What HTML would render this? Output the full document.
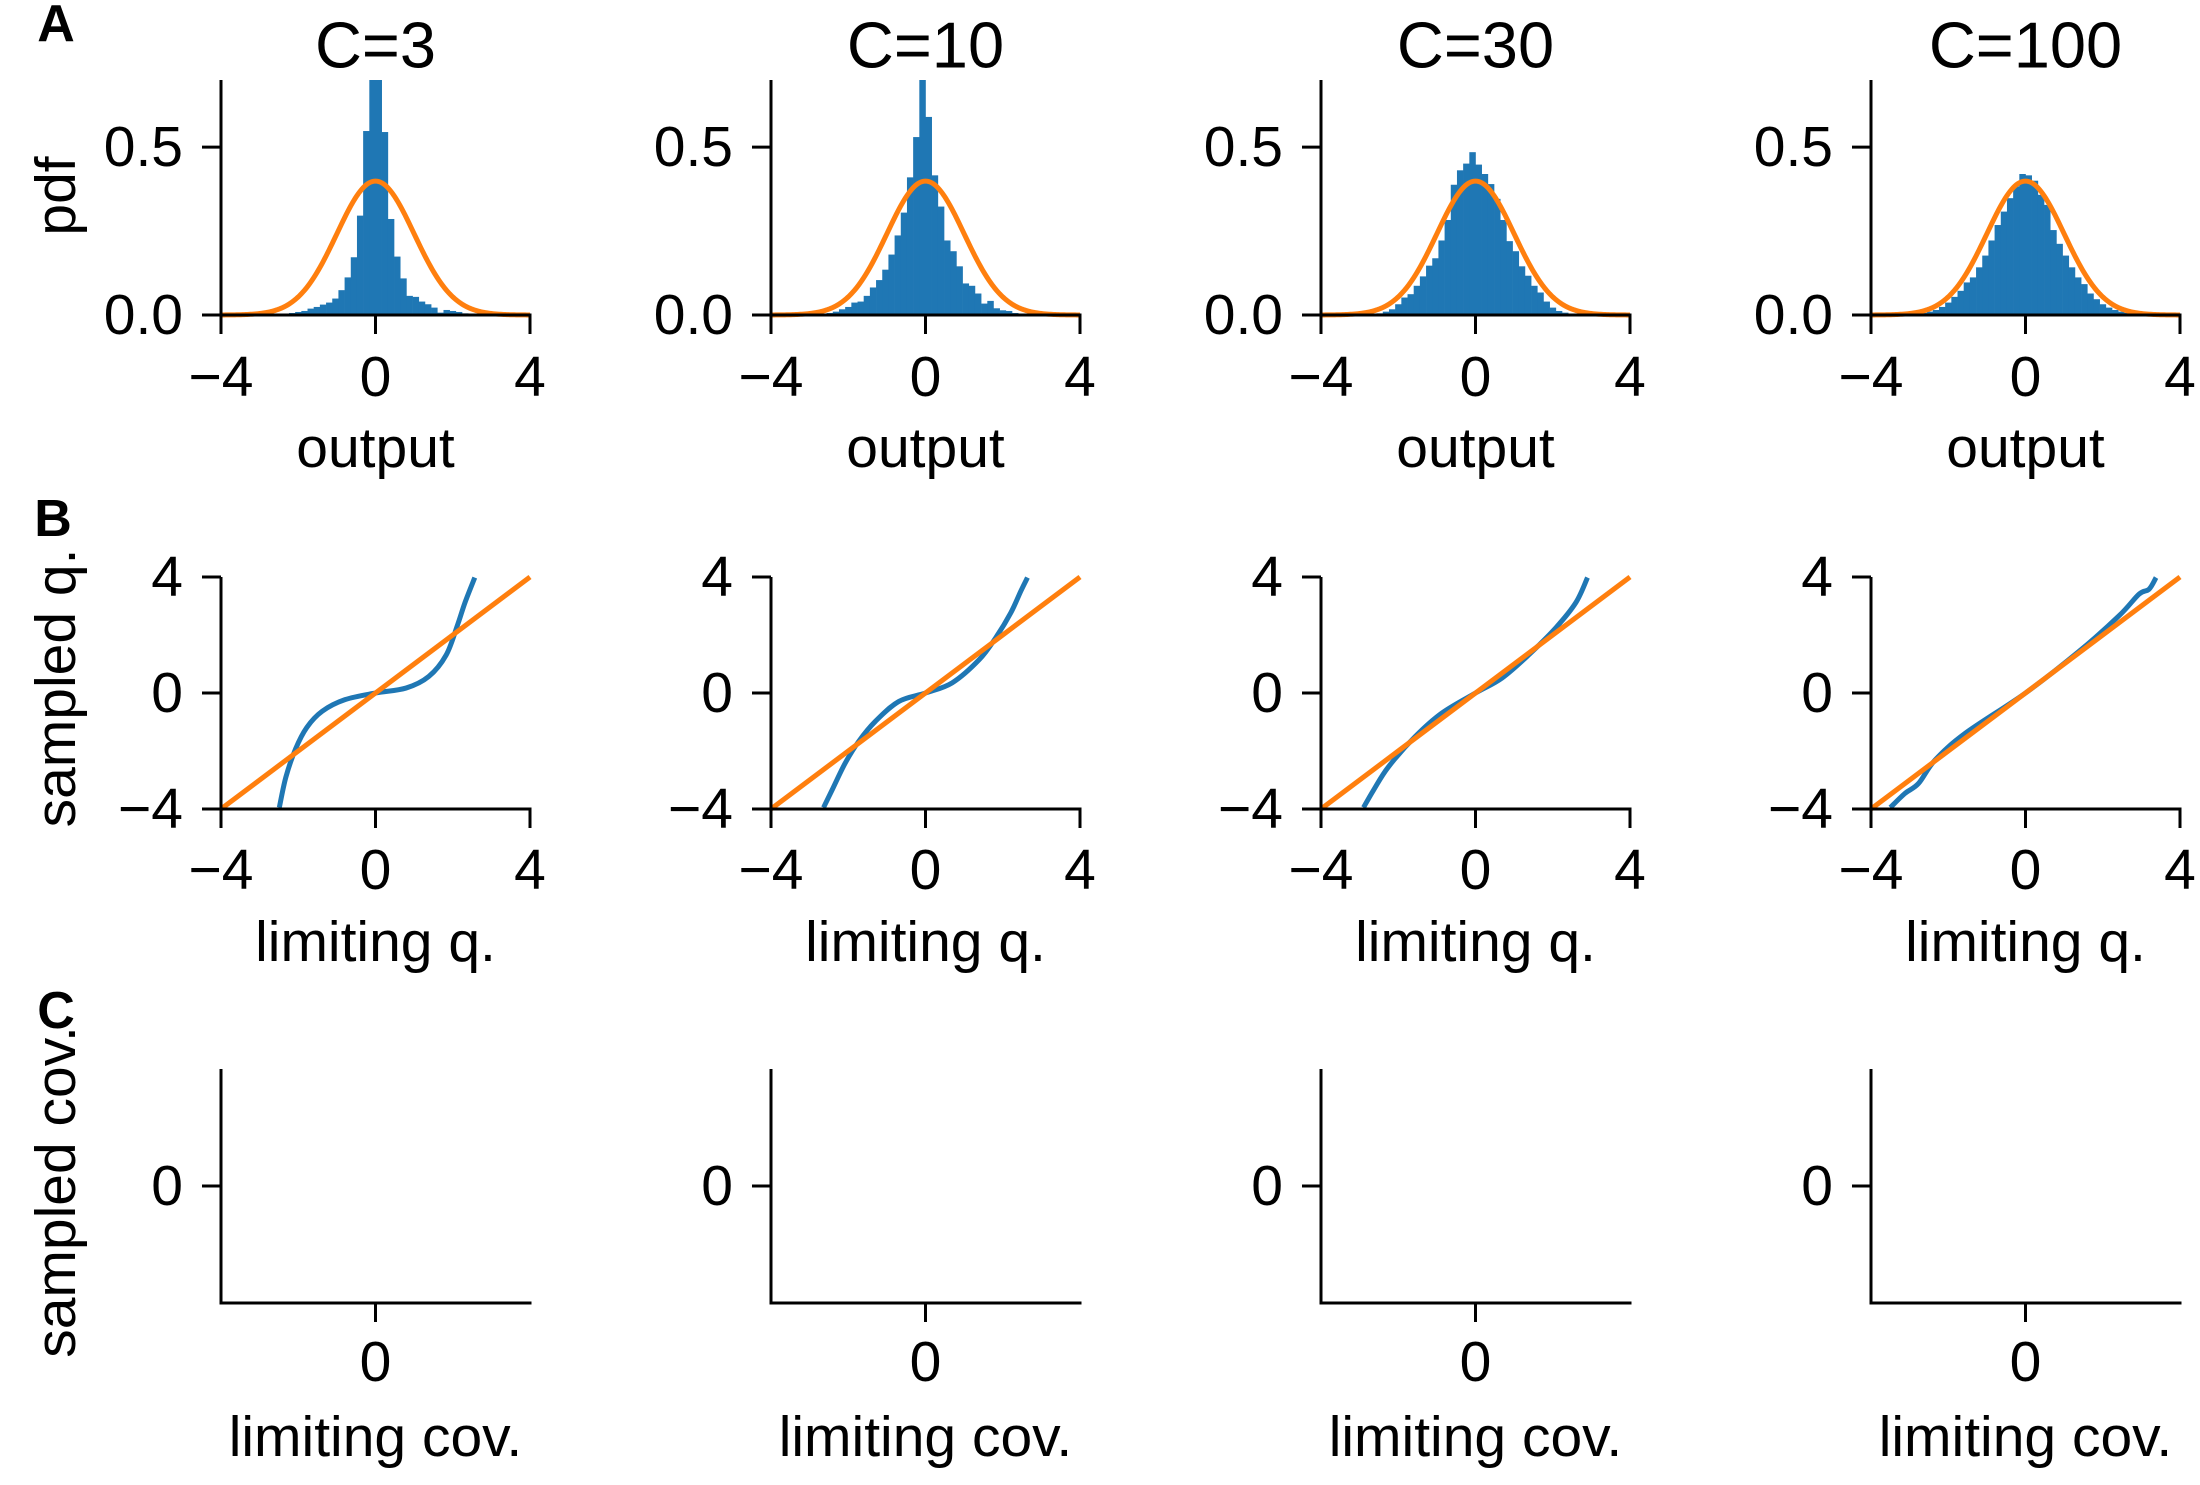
<!DOCTYPE html>
<html><head><meta charset="utf-8"><style>
html,body{margin:0;padding:0;background:#fff;}
svg{display:block;font-family:"Liberation Sans",Arial,sans-serif;}
</style></head><body>
<svg id="fig" width="2200" height="1485" viewBox="0 0 2200 1485" xmlns="http://www.w3.org/2000/svg"></svg>
<script>
// ---- data ----
const panelTitles = ["C=3","C=10","C=30","C=100"];
const binStart = -2.88;
const binWidth = 0.16;
const histC3 = [0,0,0.001,0.003,0.006,0.009,0.012,0.019,0.024,0.031,0.037,0.049,0.074,0.112,0.172,0.296,0.548,0.75,
  0.75,0.545,0.286,0.174,0.109,0.057,0.054,0.04,0.032,0.022,0.007,0.015,0.012,0.009,0.005,0.003,0.001,0];
const histC10 = [0.001,0.003,0.006,0.01,0.017,0.024,0.037,0.04,0.057,0.082,0.104,0.135,0.18,0.237,0.305,0.41,0.53,0.75,
  0.59,0.416,0.323,0.222,0.19,0.145,0.094,0.087,0.064,0.034,0.042,0.02,0.014,0.012,0.006,0.003,0.001,0];
const histC30 = [0.001,0.002,0.005,0.01,0.017,0.032,0.052,0.062,0.087,0.115,0.147,0.169,0.222,0.283,0.388,0.431,0.451,0.485,
  0.448,0.42,0.39,0.346,0.283,0.22,0.19,0.145,0.117,0.087,0.067,0.04,0.022,0.012,0.007,0.003,0.001,0];
const histC100 = [0.003,0.006,0.01,0.015,0.024,0.037,0.054,0.072,0.097,0.112,0.142,0.177,0.222,0.268,0.308,0.348,0.383,0.42,
  0.416,0.40,0.358,0.328,0.253,0.212,0.177,0.142,0.112,0.092,0.064,0.047,0.032,0.022,0.015,0.01,0.006,0.003];
const limitMean = 0, limitSd = 1;
const qqLimC3 = [-2.49,-2.32,-2.07,-1.78,-1.38,-0.79,0,0.79,1.38,1.83,2.12,2.32,2.57];
const qqSampC3 = [-3.95,-2.9,-1.93,-1.19,-0.63,-0.23,0,0.17,0.57,1.31,2.33,3.13,3.98];
const qqLimC10 = [-2.64,-2.42,-2.08,-1.73,-1.3,-0.69,0,0.69,1.39,1.82,2.21,2.47,2.64];
const qqSampC10 = [-3.95,-3.35,-2.42,-1.67,-0.98,-0.29,0,0.35,1.15,1.91,2.77,3.52,3.98];
const qqLimC30 = [-2.9,-2.64,-2.25,-1.56,-0.87,0,0.69,1.39,2.08,2.6,2.9];
const qqSampC30 = [-3.95,-3.35,-2.54,-1.5,-0.69,0,0.52,1.33,2.25,3.12,3.98];
const qqLimC100 = [-3.5,-3.12,-2.77,-2.34,-1.56,0,1.39,2.42,2.94,3.2,3.38];
const qqSampC100 = [-3.95,-3.46,-3.12,-2.31,-1.39,0,1.44,2.66,3.41,3.58,3.98];
const xTicks = [-4,0,4];
const xTickLabels = ["\u22124","0","4"];
const pdfTicks = [0,0.5];
const pdfTickLabels = ["0.0","0.5"];
const qqYTicks = [-4,0,4];
const qqYTickLabels = ["\u22124","0","4"];

const hists = [histC3,histC10,histC30,histC100];
const qqX = [qqLimC3,qqLimC10,qqLimC30,qqLimC100];
const qqY = [qqSampC3,qqSampC10,qqSampC30,qqSampC100];

const NS = "http://www.w3.org/2000/svg";
const svg = document.getElementById("fig");
function mk(tag, attrs, parent){
  const e = document.createElementNS(NS, tag);
  for (const k in attrs) e.setAttribute(k, attrs[k]);
  (parent||svg).appendChild(e);
  return e;
}
function txt(s, x, y, size, anchor, parent, weight){
  const t = mk("text", {x:x, y:y, "font-size":size, "text-anchor":anchor||"middle", "dominant-baseline":"central", fill:"#000"}, parent);
  if (weight) t.setAttribute("font-weight", weight);
  t.textContent = s;
  return t;
}
function smoothPath(pts){
  let d = "M" + pts[0][0].toFixed(2) + "," + pts[0][1].toFixed(2);
  for (let i = 0; i < pts.length - 1; i++) {
    const p0 = pts[Math.max(0, i - 1)], p1 = pts[i], p2 = pts[i + 1], p3 = pts[Math.min(pts.length - 1, i + 2)];
    const c1x = p1[0] + (p2[0] - p0[0]) / 6, c1y = p1[1] + (p2[1] - p0[1]) / 6;
    const c2x = p2[0] - (p3[0] - p1[0]) / 6, c2y = p2[1] - (p3[1] - p1[1]) / 6;
    d += "C" + c1x.toFixed(2) + "," + c1y.toFixed(2) + " " + c2x.toFixed(2) + "," + c2y.toFixed(2) + " " + p2[0].toFixed(2) + "," + p2[1].toFixed(2);
  }
  return d;
}
const BLUE = "#1f77b4", ORANGE = "#ff7f0e";
const colX = [221, 771, 1321, 1871];
const W = 309;
const FS = 57;
const LW = 5;

for (let c = 0; c < 4; c++) {
  const x0 = colX[c];
  const sx = v => x0 + (v + 4) / 8 * W;

  // ===== Row A =====
  const gA = mk("g", {});
  
  
  const aTop = 80, aBot = 315;
  const syA = v => aBot - v / 0.7 * (aBot - aTop);
  const clipId = "clipA" + c;
  const cp = mk("clipPath", {id: clipId}, gA);
  mk("rect", {x: x0, y: aTop, width: W, height: aBot - aTop}, cp);
  const bars = mk("g", {"clip-path": "url(#" + clipId + ")"}, gA);
  hists[c].forEach((h, i) => {
    const l = binStart + i * binWidth;
    const r = mk("rect", {x: sx(l), y: syA(h), width: sx(l + binWidth) - sx(l) + 0.3, height: aBot - syA(h), fill: BLUE}, bars);
    
    
  });
  let d = "";
  for (let k = 0; k <= 200; k++) {
    const v = -4 + 8 * k / 200;
    const p = Math.exp(-0.5 * ((v - limitMean) / limitSd) ** 2) / (limitSd * Math.sqrt(2 * Math.PI));
    d += (k ? "L" : "M") + sx(v).toFixed(2) + "," + syA(p).toFixed(2);
  }
  const gc = mk("path", {d: d, fill: "none", stroke: ORANGE, "stroke-width": LW}, gA);
  
  
  mk("line", {x1: x0, y1: aTop, x2: x0, y2: aBot + 1.5, stroke: "#000", "stroke-width": 3}, gA);
  mk("line", {x1: x0 - 1.5, y1: aBot, x2: x0 + W + 1.5, y2: aBot, stroke: "#000", "stroke-width": 3}, gA);
  pdfTicks.forEach((t, i) => {
    mk("line", {x1: x0 - 19, y1: syA(t), x2: x0, y2: syA(t), stroke: "#000", "stroke-width": 3}, gA);
    const e = txt(pdfTickLabels[i], x0 - 38, syA(t), FS, "end", gA);
    
    
  });
  xTicks.forEach((t, i) => {
    mk("line", {x1: sx(t), y1: aBot, x2: sx(t), y2: aBot + 19, stroke: "#000", "stroke-width": 3}, gA);
    const e = txt(xTickLabels[i], sx(t), 377, FS, "middle", gA);
    
    
  });
  const ti = txt(panelTitles[c], sx(0), 45, 65, "middle", gA);
  
  
  const xl = txt("output", sx(0), 448, FS, "middle", gA);
  
  

  // ===== Row B =====
  const gB = mk("g", {});
  
  
  const bTop = 577, bBot = 809;
  const syB = v => bBot - (v + 4) / 8 * (bBot - bTop);
  const pts = qqX[c].map((v, i) => [sx(v), syB(qqY[c][i])]);
  const ql = mk("path", {d: smoothPath(pts), fill: "none", stroke: BLUE, "stroke-width": LW, "stroke-linejoin": "round"}, gB);
  
  
  const ref = mk("line", {x1: sx(-4), y1: syB(-4), x2: sx(4), y2: syB(4), stroke: ORANGE, "stroke-width": LW}, gB);
  
  
  mk("line", {x1: x0, y1: bTop, x2: x0, y2: bBot + 1.5, stroke: "#000", "stroke-width": 3}, gB);
  mk("line", {x1: x0 - 1.5, y1: bBot, x2: x0 + W + 1.5, y2: bBot, stroke: "#000", "stroke-width": 3}, gB);
  qqYTicks.forEach((t, i) => {
    mk("line", {x1: x0 - 19, y1: syB(t), x2: x0, y2: syB(t), stroke: "#000", "stroke-width": 3}, gB);
    const e = txt(qqYTickLabels[i], x0 - 38, syB(t), FS, "end", gB);
    
    
  });
  xTicks.forEach((t, i) => {
    mk("line", {x1: sx(t), y1: bBot, x2: sx(t), y2: bBot + 19, stroke: "#000", "stroke-width": 3}, gB);
    const e = txt(xTickLabels[i], sx(t), 870, FS, "middle", gB);
    
    
  });
  const xlb = txt("limiting q.", sx(0), 942, FS, "middle", gB);
  
  

  // ===== Row C =====
  const gC = mk("g", {});
  
  
  const cTop = 1069, cBot = 1303;
  const cMid = (cTop + cBot) / 2;
  mk("line", {x1: x0, y1: cTop, x2: x0, y2: cBot + 1.5, stroke: "#000", "stroke-width": 3}, gC);
  mk("line", {x1: x0 - 1.5, y1: cBot, x2: x0 + W + 1.5, y2: cBot, stroke: "#000", "stroke-width": 3}, gC);
  mk("line", {x1: x0 - 19, y1: cMid, x2: x0, y2: cMid, stroke: "#000", "stroke-width": 3}, gC);
  mk("line", {x1: sx(0), y1: cBot, x2: sx(0), y2: cBot + 19, stroke: "#000", "stroke-width": 3}, gC);
  const cy = txt("0", x0 - 38, cMid, FS, "end", gC);
  
  
  const cx = txt("0", sx(0), 1362, FS, "middle", gC);
  
  
  const xlc = txt("limiting cov.", sx(0), 1437, FS, "middle", gC);
  
  
}

// row labels & y axis titles
const la = txt("A", 56, 24, 52, "middle", svg, "bold");


const lb = txt("B", 53, 519, 52, "middle", svg, "bold");


const lc = txt("C", 56, 1011, 52, "middle", svg, "bold");


function vlabel(s, x, y, name){
  const t = txt(s, 0, 0, FS, "middle", svg);
  t.setAttribute("transform", "translate(" + x + "," + y + ") rotate(-90)");
  
  
}
vlabel("pdf", 56, 196, "y-axis-title-pdf");
vlabel("sampled q.", 56, 688, "y-axis-title-sampled-q");
vlabel("sampled cov.", 56, 1192, "y-axis-title-sampled-cov");
</script>
</body></html>
